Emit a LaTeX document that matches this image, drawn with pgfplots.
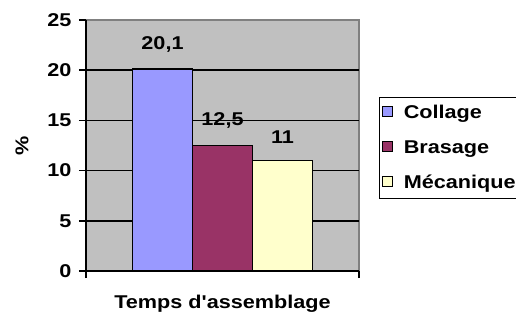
\documentclass[border=0pt]{standalone}
\usepackage{fontspec}
\setmainfont{Liberation Sans}[FakeStretch=1.17, Ligatures=TeXOff]
\usepackage{pgfplots}
\pgfplotsset{compat=1.18}
\definecolor{collage}{HTML}{9999FF}
\definecolor{brasage}{HTML}{993366}
\definecolor{meca}{HTML}{FFFFCC}
\definecolor{plotgray}{HTML}{C0C0C0}
\definecolor{bordergray}{HTML}{808080}
\newcommand{\ff}{\fontsize{18.5bp}{21bp}\selectfont\bfseries}
\begin{document}
\begin{tikzpicture}
\useasboundingbox (-86bp,-45bp) rectangle (430bp,271bp);
\begin{axis}[
  at={(0,0)}, anchor=south west,
  scale only axis, width=273bp, height=251bp,
  ymin=0, ymax=25, ytick={0,5,...,20},
  extra y ticks={25}, extra y tick style={grid=none},
  xmin=-1, xmax=1, xtick={-1,1}, xticklabels={},
  ybar=0pt, bar width=60bp,
  axis background/.style={fill=plotgray, draw=bordergray, line width=1.5bp},
  ymajorgrids, grid style={black, line width=1.5bp},
  axis lines*=left, axis line style={black, line width=1.8bp, -},
  tick align=outside, major tick length=7bp,
  tick style={black, line width=1.5bp},
  /pgf/number format/assume math mode=true,
  ticklabel style={font=\ff},
  yticklabel style={xshift=-4bp},
  ylabel={\%}, ylabel style={font=\ff, at={(axis description cs:-0.234,0.5)}, anchor=center},
  xlabel={Temps d'assemblage}, xlabel style={font=\ff, at={(axis description cs:0.5,0)}, anchor=center, yshift=-33bp},
  nodes near coords={\pgfmathprintnumber[use comma]{\pgfplotspointmeta}},
  nodes near coords style={font=\ff, anchor=south, inner sep=0pt, yshift=16bp},
  legend style={at={(axis description cs:1.0733,0.695)}, anchor=north west,
    draw=black, line width=1.2bp, fill=white, font=\ff,
    inner xsep=2bp, inner ysep=6bp, row sep=16.5bp,
    /tikz/every odd column/.append style={column sep=9bp}},
  legend cell align=left,
  legend image code/.code={\draw[#1, line width=1.2bp] (0bp,-4bp) rectangle (10bp,6bp);},
]
\addplot[fill=collage, draw=black, line width=1.5bp] coordinates {(0,20.1)};
\addplot[fill=brasage, draw=black, line width=1.5bp] coordinates {(0,12.5)};
\addplot[fill=meca, draw=black, line width=1.5bp] coordinates {(0,11)};
\legend{Collage,Brasage,Mécanique}
\end{axis}
\end{tikzpicture}
\end{document}
